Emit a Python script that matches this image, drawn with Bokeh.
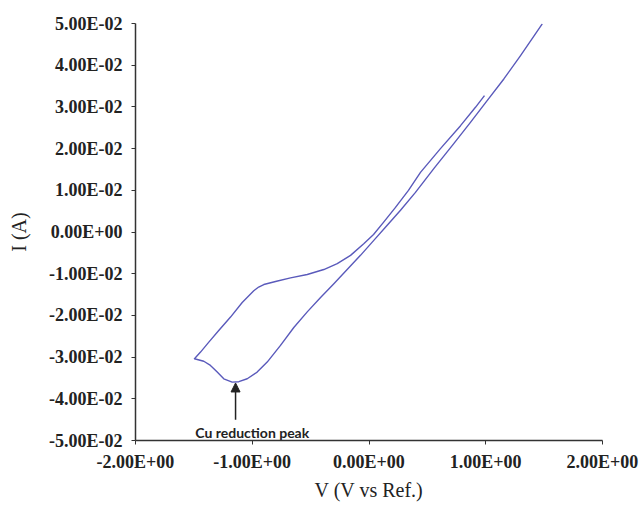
from bokeh.plotting import figure
from bokeh.models import Range1d, FixedTicker, CustomJSTickFormatter, Arrow, NormalHead, Label
from bokeh.embed import file_html
from bokeh.resources import INLINE

# Cyclic voltammogram (upper branch to the tip, then lower branch)
voltage = [0.989, 0.912, 0.784, 0.612, 0.441, 0.338, 0.227, 0.124, 0.039, -0.045,
           -0.158, -0.272, -0.387, -0.529, -0.672, -0.792, -0.901, -0.945, -0.987, -1.086, -1.186,
           -1.287, -1.372, -1.443, -1.495,
           -1.415, -1.358, -1.300, -1.244, -1.172, -1.115, -1.043, -0.958, -0.872, -0.758,
           -0.644, -0.527, -0.415, -0.301, -0.187, -0.073, 0.041, 0.156, 0.270, 0.398,
           0.555, 0.726, 0.869, 1.012, 1.155, 1.298, 1.484]
current = [0.0327, 0.0299, 0.0255, 0.0200, 0.0143, 0.0100, 0.0059, 0.0023, -0.0006, -0.0028,
           -0.0056, -0.0076, -0.0090, -0.0102, -0.0110, -0.0118, -0.0126, -0.0132, -0.0141, -0.0169, -0.0204,
           -0.0236, -0.0264, -0.0288, -0.0304,
           -0.0310, -0.0320, -0.0336, -0.0352, -0.0360, -0.0359, -0.0352, -0.0336, -0.0312, -0.0272,
           -0.0229, -0.0191, -0.0157, -0.0124, -0.0090, -0.0056, -0.0020, 0.0016, 0.0052, 0.0095,
           0.0152, 0.0212, 0.0263, 0.0315, 0.0367, 0.0423, 0.0499]

x_ticks = [-2.0, -1.0, 0.0, 1.0, 2.0]
y_ticks = [-0.05, -0.04, -0.03, -0.02, -0.01, 0.0, 0.01, 0.02, 0.03, 0.04, 0.05]

peak_v = -1.143
peak_i = -0.0362
arrow_tail_i = -0.0450
label_text = "Cu reduction peak"
label_v = -1.0
label_i = -0.0481

p = figure(width=641, height=505, output_backend="svg", toolbar_location=None,
           x_range=Range1d(-2, 2), y_range=Range1d(-0.05, 0.05),
           min_border_left=135, min_border_right=39, min_border_top=23, min_border_bottom=65)
p.outline_line_color = None
p.grid.grid_line_color = None
p.background_fill_color = "white"
p.border_fill_color = "white"

p.line(voltage, current, line_color="#5a5abb", line_width=1.4, line_join="round")

fmt = CustomJSTickFormatter(code="""
var t = Math.abs(tick) < 1e-9 ? 0 : tick;
var s = t.toExponential(2);
var parts = s.split('e');
var e = parseInt(parts[1]);
var sign = e < 0 ? '-' : '+';
var ae = Math.abs(e);
return parts[0] + 'E' + sign + (ae < 10 ? '0' : '') + ae;
""")

for ax, ticks in ((p.xaxis, x_ticks), (p.yaxis, y_ticks)):
    ax.ticker = FixedTicker(ticks=ticks)
    ax.formatter = fmt
    ax.minor_tick_line_color = None
    ax.major_tick_in = 0
    ax.major_tick_out = 4
    ax.axis_line_color = "#333333"
    ax.major_tick_line_color = "#333333"
    ax.axis_line_width = 1.5
    ax.major_label_text_font = "Liberation Serif"
    ax.major_label_text_font_style = "bold"
    ax.major_label_text_font_size = "18px"
    ax.major_label_text_color = "#222222"
    ax.axis_label_text_font = "Liberation Serif"
    ax.axis_label_text_font_style = "normal"
    ax.axis_label_text_font_size = "20px"
    ax.axis_label_text_color = "#222222"

p.xaxis.axis_label = "V (V vs Ref.)"
p.yaxis.axis_label = "I (A)"
p.xaxis.major_label_standoff = 7
p.yaxis.major_label_standoff = 9
p.xaxis.axis_label_standoff = 4
p.yaxis.axis_label_standoff = 16

p.add_layout(Arrow(end=NormalHead(size=9, fill_color="#222222", line_color="#222222"),
                   x_start=peak_v, y_start=arrow_tail_i, x_end=peak_v, y_end=peak_i,
                   line_color="#222222", line_width=1.5))
p.add_layout(Label(x=label_v, y=label_i, text=label_text, text_align="center",
                   text_baseline="alphabetic", text_font="Lato", text_font_style="bold",
                   text_font_size="14px", text_color="#222222"))

open("out.html", "w").write(file_html(p, INLINE))
